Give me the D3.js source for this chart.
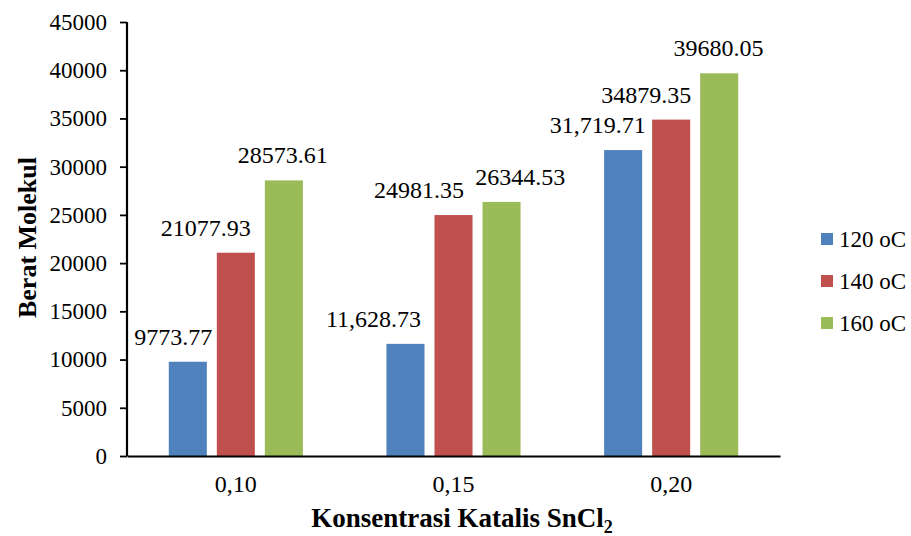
<!DOCTYPE html>
<html>
<head>
<meta charset="utf-8">
<script src="https://cdn.jsdelivr.net/npm/d3@7/dist/d3.min.js"></script>
</head>
<body style="margin:0">
<script>
(() => {
  const width = 911, height = 536;
  const serif = "Liberation Serif";

  // data
  const groups = ["0,10", "0,15", "0,20"];
  const series = ["120 oC", "140 oC", "160 oC"];
  const values120 = [9773.77, 11628.73, 31719.71];
  const values140 = [21077.93, 24981.35, 34879.35];
  const values160 = [28573.61, 26344.53, 39680.05];
  const labels120 = ["9773.77", "11,628.73", "31,719.71"];
  const labels140 = ["21077.93", "24981.35", "34879.35"];
  const labels160 = ["28573.61", "26344.53", "39680.05"];
  const yTicks = [0, 5000, 10000, 15000, 20000, 25000, 30000, 35000, 40000, 45000];

  const colors = ["#4F81BD", "#C0504D", "#9BBB59"];
  // label nudges (the labels were moved by hand in the original)
  const labelDx = [[-14.5, -32, -25.5], [-30, -34.6, -25], [-1, 18.6, -0.7]];

  const allValues = [values120, values140, values160];
  const allLabels = [labels120, labels140, labels160];

  const rows = [];
  series.forEach((s, si) => {
    groups.forEach((g, gi) => {
      rows.push({ series: s, si, group: g, gi, value: allValues[si][gi], label: allLabels[si][gi] });
    });
  });

  const plot = { left: 127, right: 780, top: 22, bottom: 456 };

  const svg = d3.select("body").append("svg")
    .attr("width", width)
    .attr("height", height)
    .attr("font-family", serif);

  const y = d3.scaleLinear().domain([0, 45000]).range([plot.bottom, plot.top]);
  const x0 = d3.scaleBand().domain(groups).range([plot.left, plot.right]).padding(0);
  const x1 = d3.scaleBand().domain(series).range([0, x0.bandwidth()])
    .paddingInner(0.208).paddingOuter(0.87);

  // bars
  svg.append("g").selectAll("rect")
    .data(rows)
    .join("rect")
    .attr("x", d => x0(d.group) + x1(d.series))
    .attr("y", d => y(d.value))
    .attr("width", x1.bandwidth())
    .attr("height", d => y(0) - y(d.value))
    .attr("fill", d => colors[d.si]);

  // value labels
  svg.append("g").selectAll("text")
    .data(rows)
    .join("text")
    .attr("x", d => x0(d.group) + x1(d.series) + x1.bandwidth() / 2 + labelDx[d.si][d.gi])
    .attr("y", d => y(d.value) - 17)
    .attr("text-anchor", "middle")
    .attr("font-family", serif)
    .attr("font-size", 24)
    .attr("fill", "#000")
    .text(d => d.label);

  // y axis
  const yAxis = svg.append("g")
    .attr("transform", `translate(${plot.left},0)`)
    .call(d3.axisLeft(y).tickValues(yTicks).tickSize(7).tickPadding(13).tickFormat(d3.format("d")))
    .attr("font-family", serif)
    .attr("font-size", 23);
  yAxis.select(".domain").attr("stroke", "#000").attr("stroke-width", 2.2)
    .attr("d", `M0,${plot.top}V${plot.bottom}`);
  yAxis.selectAll(".tick line").attr("stroke", "#000").attr("stroke-width", 1.8);
  yAxis.selectAll(".tick text").attr("fill", "#000");

  // x axis
  const xAxis = svg.append("g")
    .attr("transform", `translate(0,${plot.bottom})`)
    .call(d3.axisBottom(x0).tickSize(0).tickPadding(19))
    .attr("font-family", serif)
    .attr("font-size", 24);
  xAxis.select(".domain").attr("stroke", "#000").attr("stroke-width", 2.2);
  xAxis.selectAll(".tick text").attr("fill", "#000");

  // axis titles
  const xt = svg.append("text")
    .attr("x", 462)
    .attr("y", 527)
    .attr("text-anchor", "middle")
    .attr("font-family", serif)
    .attr("font-size", 27)
    .attr("font-weight", "bold");
  xt.append("tspan").text("Konsentrasi Katalis SnCl");
  xt.append("tspan").attr("font-size", 18).attr("dy", 6).text("2");

  svg.append("text")
    .attr("transform", `translate(36,237.5) rotate(-90)`)
    .attr("text-anchor", "middle")
    .attr("font-family", serif)
    .attr("font-size", 26)
    .attr("font-weight", "bold")
    .text("Berat Molekul");

  // legend
  const legend = svg.append("g").selectAll("g")
    .data(series)
    .join("g")
    .attr("transform", (d, i) => `translate(821,${239 + i * 42})`);
  legend.append("rect")
    .attr("x", 0).attr("y", -6)
    .attr("width", 12).attr("height", 12)
    .attr("fill", (d, i) => colors[i]);
  legend.append("text")
    .attr("x", 18)
    .attr("y", 0)
    .attr("dy", "0.33em")
    .attr("font-family", serif)
    .attr("font-size", 23)
    .text(d => d);
})();
</script>
</body>
</html>
